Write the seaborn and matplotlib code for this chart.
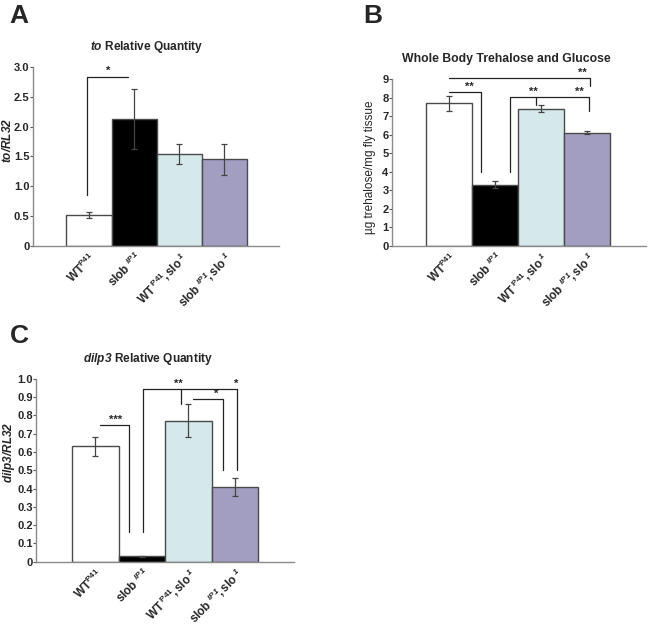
import numpy as np
import pandas as pd
import seaborn as sns
import matplotlib.pyplot as plt

# data
genotypes = ["WT", "slob", "WT slo", "slob slo"]
tick_labels = [
    r"$\mathbf{WT^{P41}}$",
    r"$\mathbf{slob\ ^{\mathbfit{IP1}}}$",
    r"$\mathbf{WT^{\ P41}\!,slo^{\ \mathbfit{1}}}$",
    r"$\mathbf{slob\ ^{\mathbfit{IP1}}\!,slo^{\ \mathbfit{1}}}$",
]
bar_colors = ["#ffffff", "#000000", "#d2ecee", "#9c98c8"]

to_mean = [0.52, 2.13, 1.54, 1.45]
to_err = [0.05, 0.50, 0.17, 0.26]

treh_mean = [7.7, 3.3, 7.4, 6.1]
treh_err = [0.4, 0.18, 0.18, 0.09]

dilp3_mean = [0.63, 0.03, 0.77, 0.41]
dilp3_err = [0.05, 0.003, 0.09, 0.05]

sns.set_theme(style="white")
plt.rcParams["font.family"] = ["Liberation Sans", "DejaVu Sans"]
plt.rcParams["mathtext.fontset"] = "custom"
plt.rcParams["mathtext.rm"] = "Liberation Sans"
plt.rcParams["mathtext.it"] = "Liberation Sans:italic"
plt.rcParams["mathtext.bf"] = "Liberation Sans:bold"
plt.rcParams["mathtext.bfit"] = "Liberation Sans:italic:bold"

fig = plt.figure(figsize=(6.48, 6.27), dpi=100)


def panel(rect, means, errs, title, title_x, ylabel, ylab_pos, yticks, yticklabels, xlim, title_size):
    ax = fig.add_axes(rect)
    df = pd.DataFrame({"genotype": genotypes, "value": means})
    sns.barplot(data=df, x="genotype", y="value", hue="genotype", palette=bar_colors,
                width=1.0, edgecolor="#4a4a4a", linewidth=1.0, legend=False, ax=ax)
    ax.errorbar(np.arange(4), means, yerr=errs, fmt="none", ecolor="#444444",
                elinewidth=0.9, capsize=2, capthick=0.9, zorder=5)
    ax.set_xlim(*xlim)
    ax.set_ylim(yticks[0], yticks[-1])
    ax.set_yticks(yticks)
    ax.set_yticklabels(yticklabels, fontsize=8, fontweight="bold")
    ax.set_xticks(np.arange(4))
    ax.set_xticklabels(tick_labels, rotation=45, ha="right", rotation_mode="anchor", fontsize=8.5)
    ax.tick_params(axis="x", length=0, pad=3)
    ax.tick_params(axis="y", length=2, width=0.8, color="#555555", pad=0.5, direction="out", left=True)
    for s in ["top", "right"]:
        ax.spines[s].set_visible(False)
    for s in ["left", "bottom"]:
        ax.spines[s].set_color("#8a8a8a")
        ax.spines[s].set_linewidth(1.0)
    ax.set_xlabel("")
    ax.set_ylabel(ylabel, fontsize=8.5)
    ax.yaxis.set_label_coords(*ylab_pos)
    ax.set_title(title, fontsize=title_size, fontweight="bold", pad=12, x=title_x)
    return ax


def bracket(ax, pts):
    xs, ys = zip(*pts)
    ax.plot(xs, ys, color="#222222", lw=0.9, clip_on=False, zorder=6)


def star(ax, x, y, s):
    ax.text(x, y, s, ha="center", va="bottom", fontsize=8, fontweight="bold", clip_on=False)


# panel A
axA = panel([0.051, 0.608, 0.380, 0.285], to_mean, to_err,
            r"$\mathbfit{to}$ Relative Quantity", 0.46, r"$\mathbfit{to/RL32}$", (-0.077, 0.59),
            [0, 0.5, 1.0, 1.5, 2.0, 2.5, 3.0], ["0", "0.5", "1.0", "1.5", "2.0", "2.5", "3.0"],
            (-1.24, 4.22), 8.6)
bracket(axA, [(-0.04, 0.85), (-0.04, 2.83), (0.87, 2.83)])
star(axA, 0.43, 2.85, "*")

# panel B
axB = panel([0.605, 0.608, 0.392, 0.266], treh_mean, treh_err,
            "Whole Body Trehalose and Glucose", 0.449, "\u00b5g trehalose/mg fly tissue", (-0.063, 0.47),
            list(range(10)), [str(i) for i in range(10)], (-1.24, 4.28), 8.8)
bracket(axB, [(0.0, 8.3), (0.7, 8.3), (0.7, 4.0)])
star(axB, 0.45, 8.3, "**")
bracket(axB, [(0.0, 9.05), (3.07, 9.05), (3.07, 8.6)])
star(axB, 2.9, 9.05, "**")
bracket(axB, [(1.33, 4.0), (1.33, 8.04), (3.04, 8.04), (3.04, 7.3)])
bracket(axB, [(1.89, 8.04), (1.89, 7.6)])
star(axB, 1.83, 8.04, "**")
star(axB, 2.83, 8.04, "**")

# panel C
axC = panel([0.056, 0.104, 0.397, 0.292], dilp3_mean, dilp3_err,
            r"$\mathbfit{dilp3}$ Relative Quantity", 0.436, r"$\mathbfit{dilp3/RL32}$", (-0.074, 0.60),
            [0, 0.1, 0.2, 0.3, 0.4, 0.5, 0.6, 0.7, 0.8, 0.9, 1.0],
            ["0", "0.1", "0.2", "0.3", "0.4", "0.5", "0.6", "0.7", "0.8", "0.9", "1.0"],
            (-1.27, 4.26), 8.6)
bracket(axC, [(0.09, 0.746), (0.73, 0.746), (0.73, 0.16)])
star(axC, 0.43, 0.75, "***")
bracket(axC, [(1.03, 0.16), (1.03, 0.943), (3.05, 0.943), (3.05, 0.50)])
bracket(axC, [(1.83, 0.943), (1.83, 0.863)])
star(axC, 1.79, 0.945, "**")
star(axC, 3.03, 0.945, "*")
bracket(axC, [(2.1, 0.889), (2.74, 0.889), (2.74, 0.50)])
star(axC, 2.6, 0.89, "*")

# panel letters
fig.text(0.015, 0.993, "A", fontsize=19, fontweight="bold", va="top")
fig.text(0.56, 0.993, "B", fontsize=19, fontweight="bold", va="top")
fig.text(0.015, 0.483, "C", fontsize=19, fontweight="bold", va="top")

fig.savefig("out.png", dpi=100)
